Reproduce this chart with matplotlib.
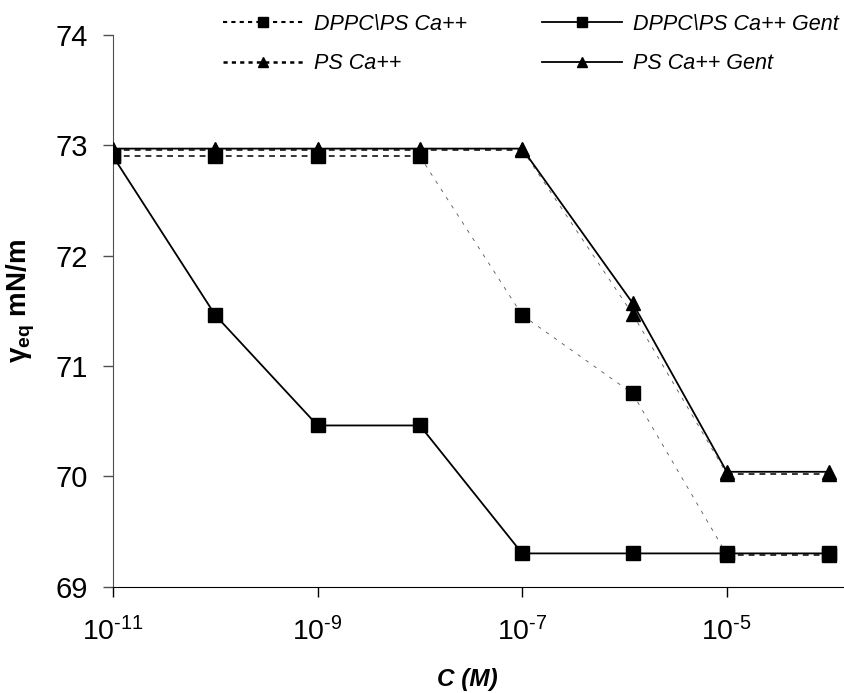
import matplotlib
matplotlib.use('Agg')
import matplotlib.pyplot as plt
from matplotlib.lines import Line2D
from matplotlib.ticker import FixedLocator, NullLocator, FixedFormatter

plt.rcParams['font.family'] = ['Liberation Sans', 'DejaVu Sans']
plt.rcParams['mathtext.fontset'] = 'custom'
plt.rcParams['mathtext.rm'] = 'Liberation Sans'
plt.rcParams['mathtext.it'] = 'Liberation Sans:italic'
plt.rcParams['mathtext.bf'] = 'Liberation Sans:bold'
plt.rcParams['lines.scale_dashes'] = False

# ---- data ----
conc = [1e-11, 1e-10, 1e-9, 1e-8, 1e-7, 1.2e-6, 1e-5, 1e-4]
dppc_ps_ca = [72.9, 72.9, 72.9, 72.9, 71.46, 70.75, 69.29, 69.29]
dppc_ps_ca_gent = [72.9, 71.46, 70.46, 70.46, 69.3, 69.3, 69.3, 69.3]
ps_ca = [72.96, 72.96, 72.96, 72.96, 72.96, 71.47, 70.02, 70.02]
ps_ca_gent = [72.97, 72.97, 72.97, 72.97, 72.97, 71.57, 70.04, 70.04]

labels = ['DPPC\\PS Ca++', 'DPPC\\PS Ca++ Gent', 'PS Ca++', 'PS Ca++ Gent']
xtick_vals = [1e-11, 1e-9, 1e-7, 1e-5]
xtick_labels = [r'$10^{\text{-11}}$', r'$10^{\text{-9}}$', r'$10^{\text{-7}}$', r'$10^{\text{-5}}$']
ytick_vals = [69, 70, 71, 72, 73, 74]

fig = plt.figure(figsize=(8.45, 6.93), dpi=100)
ax = fig.add_axes([113 / 845, 1 - 586.5 / 693, 1 - 113 / 845, (586.5 - 35) / 693])
ax.set_xscale('log')


def dashed_series(x, y, marker, ms):
    for i in range(len(x) - 1):
        xs, ys = x[i:i + 2], y[i:i + 2]
        if ys[0] == ys[1]:
            ax.plot(xs, ys, color='black', lw=1.1, dashes=(4.2, 3.6), zorder=2)
        else:
            ax.plot(xs, ys, color='#555555', lw=0.6, dashes=(2.5, 4.5), zorder=2)
    ax.plot(x, y, ls='none', marker=marker, ms=ms, color='black', zorder=4)


dashed_series(conc, dppc_ps_ca, 's', 10.5)
dashed_series(conc, ps_ca, '^', 10.5)
ax.plot(conc, dppc_ps_ca_gent, color='black', lw=1.3, marker='s', ms=10.5, zorder=3)
ax.plot(conc, ps_ca_gent, color='black', lw=1.3, marker='^', ms=10.5, zorder=3)

ax.set_xlim(1e-11, 10 ** (-11 + 732 / 102.3))
ax.set_ylim(69, 74)
ax.xaxis.set_major_locator(FixedLocator(xtick_vals))
ax.xaxis.set_major_formatter(FixedFormatter(xtick_labels))
ax.xaxis.set_minor_locator(NullLocator())
ax.set_yticks(ytick_vals)
ax.set_yticklabels([str(v) for v in ytick_vals])

for s in ['top', 'right']:
    ax.spines[s].set_visible(False)
ax.spines['left'].set_color('#505050')
ax.spines['bottom'].set_color('black')
ax.tick_params(axis='x', direction='out', length=7, width=1, pad=15, labelsize=20.5)
ax.tick_params(axis='y', direction='out', length=7, width=1, pad=11, labelsize=21,
               color='#505050')

ax.set_xlabel('C (M)', fontsize=17.5, fontweight='bold', fontstyle='italic')
ax.xaxis.set_label_coords(0.484, -0.148)
ax.set_ylabel(r'γ$_\mathbf{eq}$ mN/m', fontsize=20, fontweight='bold')
ax.yaxis.set_label_coords(-0.104, 0.518)

h = [
    Line2D([], [], color='black', lw=1.5, dashes=(3, 3), marker='s', ms=7),
    Line2D([], [], color='black', lw=1.3, marker='s', ms=7),
    Line2D([], [], color='black', lw=1.8, dashes=(3, 3), marker='^', ms=7),
    Line2D([], [], color='black', lw=1.3, marker='^', ms=7),
]
fig.legend(handles=[h[0], h[2], h[1], h[3]], labels=[labels[0], labels[2], labels[1], labels[3]],
           ncol=2, loc='upper left', bbox_to_anchor=(0.2415, 1.008), frameon=False,
           prop={'style': 'italic', 'size': 15.5}, handlelength=3.7, handletextpad=0.5,
           columnspacing=3.5, labelspacing=0.85)

fig.savefig('out.png', dpi=100)
